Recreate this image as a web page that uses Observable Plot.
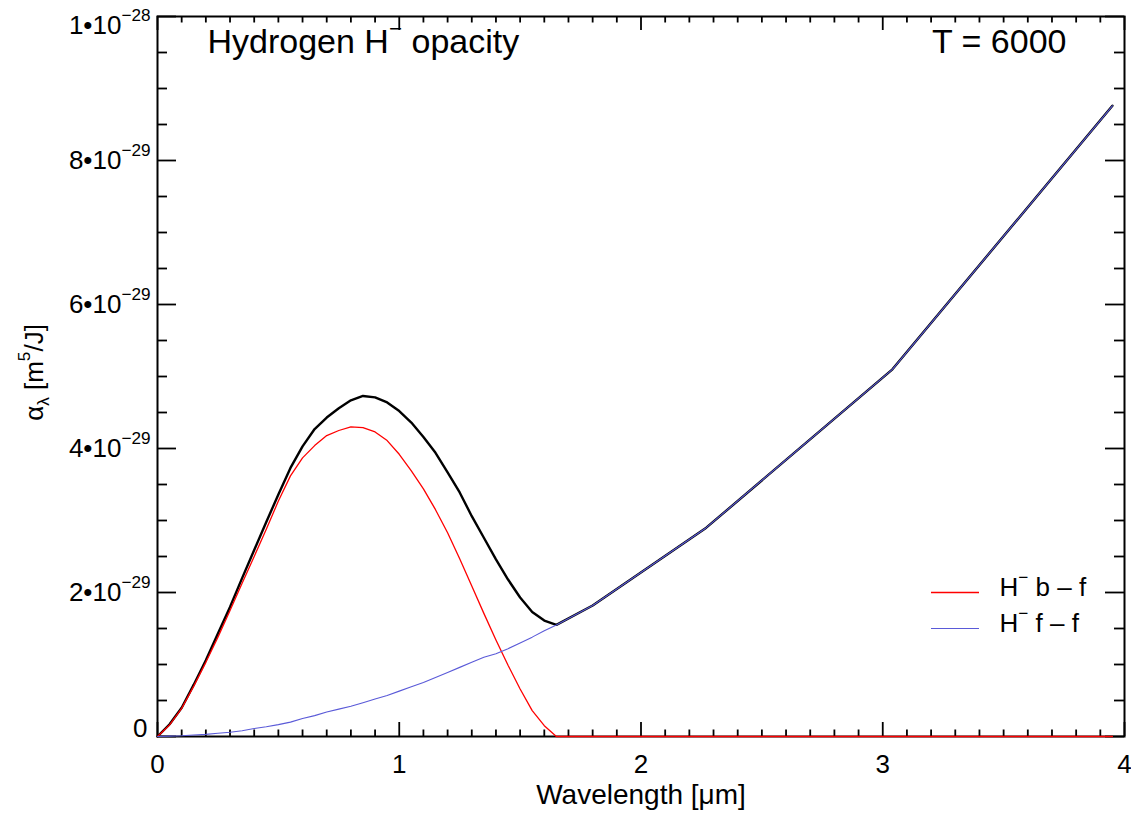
<!DOCTYPE html>
<html>
<head>
<meta charset="utf-8">
<script src="https://cdn.jsdelivr.net/npm/d3@7"></script>
<script src="https://cdn.jsdelivr.net/npm/@observablehq/plot@0.6"></script>
<style>
  html, body { margin: 0; padding: 0; background: #fff; }
  #chart svg { display: block; }
</style>
</head>
<body>
<div id="chart"></div>
<script>
// ---- data (opacity in units of 1e-29 m^5/J, wavelength in micrometres) ----
const wavelength = [0, 0.05, 0.1, 0.15, 0.2, 0.25, 0.3, 0.35, 0.4, 0.45, 0.5, 0.55, 0.6, 0.65, 0.7, 0.75, 0.8, 0.85, 0.9, 0.95,
                    1.0, 1.05, 1.1, 1.15, 1.2, 1.25, 1.3, 1.35, 1.4, 1.45, 1.5, 1.55, 1.6, 1.65, 1.8, 2.27, 3.04, 3.95];
const boundFree  = [0, 0.16, 0.39, 0.70, 1.03, 1.38, 1.75, 2.13, 2.50, 2.88, 3.27, 3.62, 3.87, 4.04, 4.18, 4.25, 4.30, 4.29, 4.23, 4.11,
                    3.92, 3.69, 3.44, 3.15, 2.83, 2.47, 2.09, 1.71, 1.34, 0.99, 0.66, 0.36, 0.15, 0, 0, 0, 0, 0];
const freeFree   = [0, 0.005, 0.01, 0.02, 0.03, 0.045, 0.06, 0.08, 0.11, 0.135, 0.165, 0.20, 0.25, 0.29, 0.34, 0.38, 0.42, 0.47, 0.52, 0.57,
                    0.63, 0.69, 0.75, 0.82, 0.89, 0.96, 1.03, 1.10, 1.15, 1.22, 1.30, 1.38, 1.47, 1.55, 1.82, 2.90, 5.10, 8.76];
const total      = [0, 0.17, 0.40, 0.72, 1.06, 1.43, 1.80, 2.20, 2.59, 2.98, 3.36, 3.73, 4.03, 4.27, 4.43, 4.56, 4.67, 4.73, 4.71, 4.64,
                    4.52, 4.36, 4.16, 3.94, 3.67, 3.39, 3.06, 2.76, 2.46, 2.18, 1.93, 1.73, 1.61, 1.55, 1.82, 2.90, 5.10, 8.76];

const xDomain = [0, 4];
const yDomain = [0, 10];
const xMajor = [0, 1, 2, 3, 4];
const xTickLabels = ["0", "1", "2", "3", "4"];
const xMinor = d3.range(0, 41).map(i => i / 10).filter(v => !xMajor.includes(v));
const yMajor = [0, 2, 4, 6, 8, 10];
const yTickLabels = ["0", "2•10^{−29}", "4•10^{−29}", "6•10^{−29}", "8•10^{−29}", "1•10^{−28}"];
const yMinor = d3.range(0, 21).map(i => i / 2).filter(v => !yMajor.includes(v));

const seriesNames = ["H^{−} b – f", "H^{−} f – f"];
const seriesColors = ["#ff0000", "#5a5ad8"];

// ---- layout ----
const W = 1131, H = 814;
const mL = 157, mR = 7, mT = 16, mB = 78;
const pw = W - mL - mR, ph = H - mT - mB;
const font = "'Liberation Sans', Arial, Helvetica, sans-serif";

const rows = wavelength.map((w, i) => ({w, bf: boundFree[i], ff: freeFree[i], tot: total[i]}));
const xTicks = xMajor.map((v, i) => ({v, label: xTickLabels[i]}));
const yTicks = yMajor.map((v, i) => ({v, label: yTickLabels[i]}));

const tickStyle = {stroke: "black", strokeWidth: 1.8};

const chart = Plot.plot({
  width: W, height: H,
  marginLeft: mL, marginRight: mR, marginTop: mT, marginBottom: mB,
  x: {domain: xDomain, axis: null},
  y: {domain: yDomain, axis: null},
  style: {fontFamily: font, background: "white", color: "black", overflow: "visible"},
  marks: [
    // ticks: bottom & top x, left & right y
    Plot.tickX(xMajor, {x: d => d, insetTop: ph - 14, ...tickStyle}),
    Plot.tickX(xMinor, {x: d => d, insetTop: ph - 6.5, ...tickStyle}),
    Plot.tickX(xMajor, {x: d => d, insetBottom: ph - 14, ...tickStyle}),
    Plot.tickX(xMinor, {x: d => d, insetBottom: ph - 6.5, ...tickStyle}),
    Plot.tickY(yMajor, {y: d => d, insetRight: pw - 19, ...tickStyle}),
    Plot.tickY(yMinor, {y: d => d, insetRight: pw - 10, ...tickStyle}),
    Plot.tickY(yMajor, {y: d => d, insetLeft: pw - 19, ...tickStyle}),
    Plot.tickY(yMinor, {y: d => d, insetLeft: pw - 10, ...tickStyle}),
    Plot.frame({stroke: "black", strokeWidth: 2}),

    // curves
    Plot.line(rows, {x: "w", y: "tot", stroke: "black", strokeWidth: 2.4, strokeLinejoin: "round"}),
    Plot.line(rows, {x: "w", y: "bf", stroke: seriesColors[0], strokeWidth: 1.3}),
    Plot.line(rows, {x: "w", y: "ff", stroke: seriesColors[1], strokeWidth: 1.1}),

    // x tick labels
    Plot.text(xTicks, {x: "v", text: "label", frameAnchor: "bottom", dy: 36, lineAnchor: "bottom", fontSize: 26, fill: "black"}),
    // y tick labels
    Plot.text(yTicks.slice(0, 1), {y: "v", text: "label", frameAnchor: "left", textAnchor: "end", dx: -10, dy: -8, fontSize: 26, fill: "black"}),
    Plot.text(yTicks.slice(1, -1), {y: "v", text: "label", frameAnchor: "left", textAnchor: "end", dx: -7, fontSize: 26, fill: "black"}),
    Plot.text(yTicks.slice(-1), {y: "v", text: "label", frameAnchor: "left", textAnchor: "end", dx: -7, dy: 9, fontSize: 26, fill: "black"}),

    // axis titles
    Plot.text(["Wavelength [μm]"], {text: d => d, frameAnchor: "bottom", textAnchor: "middle", dy: 67, lineAnchor: "bottom", fontSize: 28, fill: "black"}),
    Plot.text(["α_{λ} [m^{5}/J]"], {text: d => d, frameAnchor: "left", textAnchor: "middle", dx: -123, dy: -4, rotate: -90, fontSize: 26, fill: "black"}),

    // annotations
    Plot.text(["Hydrogen H^{−} opacity"], {text: d => d, frameAnchor: "top-left", dx: 50, dy: 36, lineAnchor: "bottom", textAnchor: "start", fontSize: 34, fill: "black"}),
    Plot.text(["T = 6000"], {text: d => d, frameAnchor: "top-right", dx: -58, dy: 36, lineAnchor: "bottom", textAnchor: "end", fontSize: 34, fill: "black"}),

    // legend
    Plot.tickY([seriesNames[0]], {y: () => yDomain[0], dy: -144, insetLeft: 931 - mL, insetRight: mL + pw - 979, stroke: seriesColors[0], strokeWidth: 1.3}),
    Plot.tickY([seriesNames[1]], {y: () => yDomain[0], dy: -108, insetLeft: 931 - mL, insetRight: mL + pw - 979, stroke: seriesColors[1], strokeWidth: 1.1}),
    Plot.text([seriesNames[0]], {text: d => d, frameAnchor: "bottom-left", dx: 999 - mL, dy: -141, lineAnchor: "bottom", textAnchor: "start", fontSize: 26, fill: "black"}),
    Plot.text([seriesNames[1]], {text: d => d, frameAnchor: "bottom-left", dx: 999 - mL, dy: -105, lineAnchor: "bottom", textAnchor: "start", fontSize: 26, fill: "black"})
  ]
});

document.getElementById("chart").appendChild(chart);

// convert ^{..} and _{..} markup into superscript/subscript tspans
d3.select(chart).selectAll("text").each(function () {
  const el = this;
  const s = el.textContent;
  if (!/[\^_]\{/.test(s)) return;
  const fs = parseFloat(getComputedStyle(el).fontSize) || 26;
  el.textContent = "";
  const parts = s.split(/(\^\{[^}]*\}|_\{[^}]*\})/).filter(p => p.length);
  let shift = 0;
  for (const p of parts) {
    let txt = p, target = 0, size = null;
    if (p.startsWith("^{")) { txt = p.slice(2, -1); target = -0.5 * fs; size = 0.66 * fs; }
    else if (p.startsWith("_{")) { txt = p.slice(2, -1); target = 0.25 * fs; size = 0.66 * fs; }
    const t = d3.select(el).append("tspan").text(txt);
    if (size) t.attr("font-size", size);
    if (target !== shift) { t.attr("dy", target - shift); shift = target; }
  }
});
</script>
</body>
</html>
